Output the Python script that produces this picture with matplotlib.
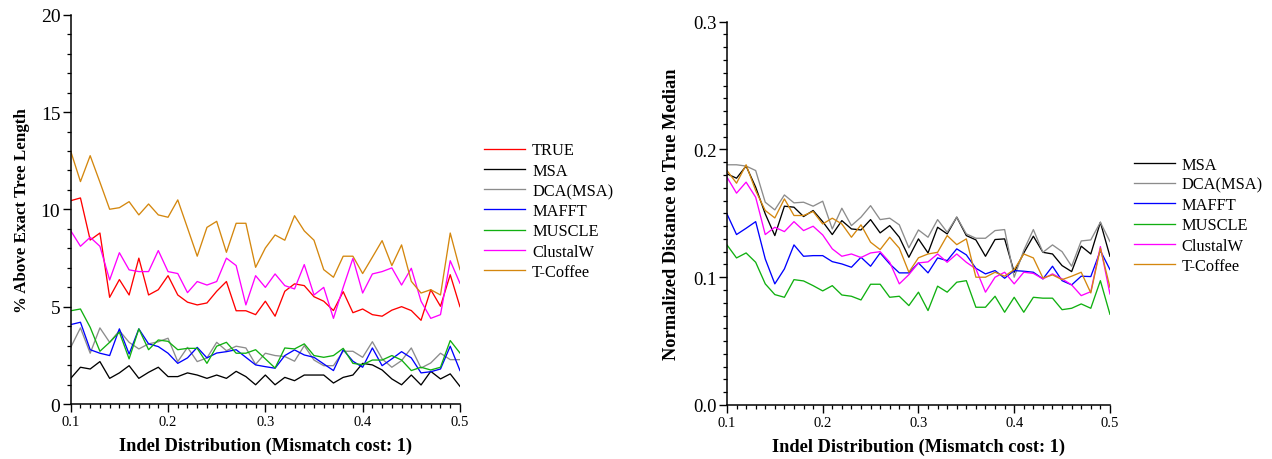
import numpy as np
import matplotlib
matplotlib.use("Agg")
import matplotlib.pyplot as plt
from matplotlib.ticker import MultipleLocator, FixedLocator, FormatStrFormatter

plt.rcParams['font.family'] = ['Liberation Serif', 'DejaVu Serif']

indel = [0.10, 0.11, 0.12, 0.13, 0.14, 0.15, 0.16, 0.17, 0.18, 0.19,
         0.20, 0.21, 0.22, 0.23, 0.24, 0.25, 0.26, 0.27, 0.28, 0.29,
         0.30, 0.31, 0.32, 0.33, 0.34, 0.35, 0.36, 0.37, 0.38, 0.39,
         0.40, 0.41, 0.42, 0.43, 0.44, 0.45, 0.46, 0.47, 0.48, 0.49, 0.50]

# left panel: % above exact tree length
left_true = [10.45, 10.59, 8.43, 8.79, 5.49, 6.4, 5.61, 7.5, 5.61, 5.88,
             6.6, 5.61, 5.24, 5.1, 5.2, 5.8, 6.3, 4.8, 4.8, 4.6,
             5.29, 4.52, 5.8, 6.18, 6.09, 5.52, 5.29, 4.81, 5.78, 4.7,
             4.89, 4.6, 4.52, 4.83, 5.01, 4.81, 4.31, 5.88, 5.03, 6.65, 5.01]
left_msa = [1.33, 1.9, 1.81, 2.19, 1.33, 1.61, 1.98, 1.33, 1.64, 1.9,
            1.42, 1.42, 1.61, 1.5, 1.33, 1.5, 1.33, 1.69, 1.42, 1.0,
            1.5, 1.0, 1.38, 1.21, 1.5, 1.5, 1.5, 1.09, 1.38, 1.5,
            2.1, 2.02, 1.76, 1.3, 1.0, 1.5, 0.99, 1.69, 1.3, 1.56, 0.92]
left_dca = [2.92, 3.92, 2.62, 3.92, 3.18, 3.78, 3.18, 2.84, 3.1, 3.21,
            3.39, 2.19, 2.92, 2.19, 2.38, 3.18, 2.75, 2.98, 2.89, 2.05,
            2.62, 2.5, 2.45, 2.21, 3.01, 2.27, 1.98, 1.98, 2.72, 2.72,
            2.41, 3.21, 2.33, 1.9, 2.24, 2.89, 1.86, 2.12, 2.62, 2.29, 2.29]
left_mafft = [4.09, 4.21, 2.8, 2.62, 2.5, 3.87, 2.58, 3.87, 3.1, 2.96,
              2.62, 2.1, 2.38, 2.92, 2.38, 2.63, 2.7, 2.8, 2.41, 2.02,
              1.93, 1.85, 2.5, 2.79, 2.53, 2.41, 2.07, 1.73, 2.8, 2.21,
              1.9, 2.89, 1.98, 2.33, 2.7, 2.38, 1.61, 1.67, 1.81, 2.98, 1.73]
left_muscle = [4.8, 4.89, 3.95, 2.72, 3.18, 3.7, 2.33, 3.87, 2.8, 3.3,
               3.23, 2.8, 2.87, 2.87, 2.1, 2.98, 3.18, 2.62, 2.62, 2.8,
               2.33, 1.86, 2.89, 2.84, 3.1, 2.5, 2.41, 2.5, 2.87, 2.1,
               2.03, 2.27, 2.27, 2.5, 2.27, 1.73, 1.9, 1.76, 1.9, 3.27, 2.63]
left_clustalw = [8.91, 8.11, 8.57, 8.11, 6.38, 7.78, 6.9, 6.81, 6.81, 7.89,
                 6.81, 6.71, 5.73, 6.3, 6.12, 6.3, 7.5, 7.12, 5.1, 6.6,
                 6.0, 6.69, 6.09, 5.92, 7.17, 5.61, 6.0, 4.41, 6.0, 7.49,
                 5.71, 6.69, 6.81, 7.0, 6.12, 6.98, 5.29, 4.41, 4.6, 7.37, 6.21]
left_tcoffee = [12.99, 11.43, 12.76, 11.4, 10.01, 10.09, 10.4, 9.72, 10.28, 9.72,
                9.6, 10.49, 9.05, 7.6, 9.08, 9.39, 7.8, 9.29, 9.29, 7.03,
                8.02, 8.69, 8.42, 9.68, 8.9, 8.42, 6.91, 6.52, 7.6, 7.6,
                6.71, 7.55, 8.4, 7.12, 8.18, 6.31, 5.71, 5.88, 5.61, 8.79, 6.91]

# right panel: normalized distance to true median
right_msa = [0.1809, 0.1775, 0.187, 0.1705, 0.1496, 0.1326, 0.1556, 0.1548, 0.1475, 0.1522,
             0.1435, 0.1334, 0.1443, 0.1378, 0.137, 0.1451, 0.1347, 0.1404, 0.1313, 0.1156,
             0.13, 0.119, 0.1391, 0.1339, 0.147, 0.1326, 0.1292, 0.1164, 0.1295, 0.13,
             0.1039, 0.119, 0.1321, 0.1195, 0.1182, 0.1091, 0.1044, 0.1243, 0.1182, 0.143, 0.1164]
right_dca = [0.188, 0.188, 0.187, 0.1835, 0.1587, 0.1527, 0.1644, 0.1582, 0.1587, 0.1556,
             0.1595, 0.1378, 0.154, 0.1404, 0.147, 0.156, 0.1451, 0.1462, 0.141, 0.123,
             0.137, 0.1313, 0.1451, 0.1352, 0.147, 0.1339, 0.1305, 0.1305, 0.1365, 0.1373,
             0.100, 0.121, 0.1373, 0.1195, 0.1253, 0.12, 0.1086, 0.1284, 0.1292, 0.143, 0.1279]
right_mafft = [0.1496, 0.1334, 0.1383, 0.1435, 0.1143, 0.0948, 0.1065, 0.1253, 0.1164, 0.1169,
               0.1169, 0.1122, 0.1104, 0.1078, 0.1156, 0.1086, 0.119, 0.1104, 0.1034, 0.1034,
               0.1112, 0.1034, 0.1151, 0.113, 0.1222, 0.1175, 0.107, 0.1026, 0.1052, 0.0992,
               0.1052, 0.1047, 0.1039, 0.0987, 0.1086, 0.0973, 0.094, 0.1008, 0.1005, 0.1208, 0.106]
right_muscle = [0.1253, 0.1151, 0.119, 0.1117, 0.0948, 0.0864, 0.0843, 0.0981, 0.0971, 0.0934,
                0.0893, 0.0934, 0.0861, 0.0851, 0.0822, 0.0945, 0.0945, 0.0843, 0.0851, 0.0778,
                0.0883, 0.0739, 0.093, 0.0883, 0.0961, 0.0973, 0.0765, 0.0765, 0.0851, 0.0726,
                0.0843, 0.0726, 0.0843, 0.0836, 0.0836, 0.0746, 0.0757, 0.0791, 0.0757, 0.0973, 0.071]
right_clustalw = [0.1783, 0.1658, 0.1744, 0.1626, 0.1334, 0.1391, 0.1357, 0.1435, 0.1365, 0.1399,
                  0.1331, 0.1222, 0.1164, 0.1182, 0.1154, 0.119, 0.12, 0.1117, 0.0948, 0.102,
                  0.1112, 0.112, 0.1182, 0.1117, 0.1182, 0.1117, 0.1065, 0.0883, 0.1, 0.1039,
                  0.0948, 0.1039, 0.103, 0.0987, 0.1026, 0.0987, 0.094, 0.0856, 0.0887, 0.124, 0.0869]
right_tcoffee = [0.1835, 0.1736, 0.188, 0.1678, 0.1522, 0.1464, 0.1613, 0.1483, 0.1483, 0.1514,
                 0.1417, 0.1462, 0.1417, 0.1313, 0.141, 0.1274, 0.1216, 0.1313, 0.1227, 0.1039,
                 0.1152, 0.1182, 0.1195, 0.1326, 0.1255, 0.13, 0.1, 0.1, 0.1039, 0.1008,
                 0.106, 0.1182, 0.1151, 0.0994, 0.1018, 0.0981, 0.1008, 0.1039, 0.0877, 0.1227, 0.0922]

colors = {
    'TRUE': '#ff0000',
    'MSA': '#000000',
    'DCA(MSA)': '#8c8c8c',
    'MAFFT': '#0000ff',
    'MUSCLE': '#10b010',
    'ClustalW': '#ff00ff',
    'T-Coffee': '#d4870e',
}

left_series = [('TRUE', left_true), ('MSA', left_msa), ('DCA(MSA)', left_dca),
               ('MAFFT', left_mafft), ('MUSCLE', left_muscle),
               ('ClustalW', left_clustalw), ('T-Coffee', left_tcoffee)]
right_series = [('MSA', right_msa), ('DCA(MSA)', right_dca), ('MAFFT', right_mafft),
                ('MUSCLE', right_muscle), ('ClustalW', right_clustalw),
                ('T-Coffee', right_tcoffee)]


def style_axes(ax, ysize):
    for s in ['top', 'right']:
        ax.spines[s].set_visible(False)
    for s in ['left', 'bottom']:
        ax.spines[s].set_linewidth(1.1)
    ax.set_xlim(0.1, 0.5)
    ax.xaxis.set_major_locator(FixedLocator([0.1, 0.2, 0.3, 0.4, 0.5]))
    ax.xaxis.set_minor_locator(MultipleLocator(0.01))
    ax.tick_params(which='major', direction='out', length=5.5, width=1.0)
    ax.tick_params(which='minor', direction='out', length=3, width=0.9)
    ax.tick_params(axis='x', which='major', labelsize=10.5, pad=2.5)
    ax.tick_params(axis='y', which='major', labelsize=ysize, pad=2)
    ax.set_xlabel('Indel Distribution (Mismatch cost: 1)', fontsize=13.2, fontweight='bold', labelpad=6)


def add_legend(ax, top):
    ax.legend(loc='upper left', bbox_to_anchor=(1.062, top), frameon=False, fontsize=11.8,
              handlelength=2.5, handletextpad=0.43, labelspacing=0.26,
              borderpad=0, borderaxespad=0)


fig = plt.figure(figsize=(12.72, 4.6), dpi=100)

ax1 = fig.add_axes([0.0556, 0.119, 0.306, 0.847])
for name, vals in left_series:
    ax1.plot(indel, vals, color=colors[name], lw=0.95, label=name)
style_axes(ax1, 14)
ax1.set_ylim(0, 20)
ax1.yaxis.set_major_locator(MultipleLocator(5))
ax1.yaxis.set_minor_locator(MultipleLocator(1))
ax1.set_ylabel('% Above Exact Tree Length', fontsize=12.2, fontweight='bold', labelpad=7.5)
add_legend(ax1, 0.672)

ax2 = fig.add_axes([0.5715, 0.1174, 0.3011, 0.8333])
for name, vals in right_series:
    ax2.plot(indel, vals, color=colors[name], lw=0.95, label=name)
style_axes(ax2, 13.5)
ax2.set_ylim(0, 0.3)
ax2.yaxis.set_major_locator(MultipleLocator(0.1))
ax2.yaxis.set_minor_locator(MultipleLocator(0.01))
ax2.yaxis.set_major_formatter(FormatStrFormatter('%.1f'))
ax2.set_ylabel('Normalized Distance to True Median', fontsize=13.2, fontweight='bold', labelpad=9.5)
add_legend(ax2, 0.648)

fig.savefig('out.png', dpi=100)
